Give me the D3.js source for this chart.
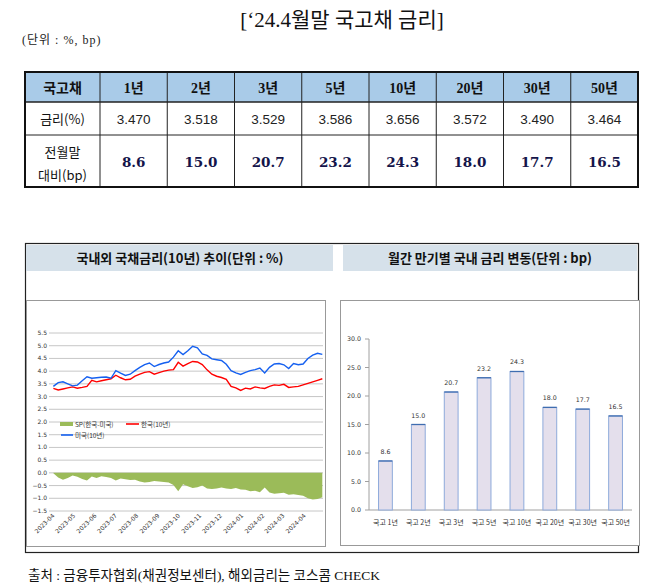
<!DOCTYPE html>
<html><head><meta charset="utf-8">
<script src="https://cdn.jsdelivr.net/npm/d3@7"></script>
<style>body{margin:0;background:#fff}svg{display:block}</style>
</head><body><svg id="c" width="658" height="585"></svg>
<script>
// ---------- data ----------
const tenors = ["1년","2년","3년","5년","10년","20년","30년","50년"];
const rates = [3.470,3.518,3.529,3.586,3.656,3.572,3.490,3.464];
const changes = [8.6,15.0,20.7,23.2,24.3,18.0,17.7,16.5];
const barCategories = tenors.map(t => "국고 " + t);
const barTicks = [0,5,10,15,20,25,30];
const lineTicks = [-1.5,-1.0,-0.5,0.0,0.5,1.0,1.5,2.0,2.5,3.0,3.5,4.0,4.5,5.0,5.5];
const monthTicks = ["2023-04","2023-05","2023-06","2023-07","2023-08","2023-09","2023-10","2023-11","2023-12","2024-01","2024-02","2024-03","2024-04"];
const weekDates = ["2023-04-03","2023-04-10","2023-04-17","2023-04-24","2023-05-01","2023-05-08","2023-05-15","2023-05-22","2023-05-29",
"2023-06-05","2023-06-12","2023-06-19","2023-06-26","2023-07-03","2023-07-10","2023-07-17","2023-07-24","2023-07-31",
"2023-08-07","2023-08-14","2023-08-21","2023-08-28","2023-09-04","2023-09-11","2023-09-18","2023-09-25",
"2023-10-02","2023-10-09","2023-10-16","2023-10-23","2023-10-30","2023-11-06","2023-11-13","2023-11-20","2023-11-27",
"2023-12-04","2023-12-11","2023-12-18","2023-12-25","2024-01-01","2024-01-08","2024-01-15","2024-01-22","2024-01-29",
"2024-02-05","2024-02-12","2024-02-19","2024-02-26","2024-03-04","2024-03-11","2024-03-18","2024-03-25",
"2024-04-01","2024-04-08","2024-04-15","2024-04-22","2024-04-29"];
const us10 = [3.40,3.55,3.58,3.50,3.42,3.45,3.62,3.78,3.72,3.74,3.76,3.77,3.72,4.02,3.92,3.83,3.88,4.02,4.15,4.26,4.32,4.18,4.26,4.32,4.36,4.55,
4.80,4.65,4.80,4.98,4.92,4.68,4.62,4.48,4.45,4.42,4.27,4.02,3.93,3.87,3.95,4.02,4.06,4.12,3.93,4.15,4.28,4.30,4.25,4.10,4.30,4.25,4.28,4.50,4.63,4.70,4.66];
const kr10 = [3.32,3.26,3.30,3.34,3.38,3.33,3.36,3.40,3.64,3.58,3.62,3.66,3.70,3.84,3.74,3.66,3.68,3.80,3.88,3.95,3.98,3.88,3.94,4.00,4.04,4.06,
4.35,4.20,4.30,4.38,4.36,4.26,4.05,3.88,3.80,3.75,3.68,3.40,3.34,3.24,3.33,3.30,3.38,3.34,3.32,3.40,3.46,3.44,3.48,3.36,3.38,3.40,3.46,3.52,3.58,3.64,3.70];
const spread = [-0.02,-0.18,-0.27,-0.20,-0.10,-0.15,-0.24,-0.30,-0.14,-0.20,-0.13,-0.16,-0.20,-0.30,-0.22,-0.25,-0.28,-0.27,-0.34,-0.38,-0.36,-0.32,-0.34,-0.36,-0.38,-0.48,
-0.72,-0.45,-0.53,-0.60,-0.57,-0.50,-0.62,-0.63,-0.62,-0.58,-0.62,-0.63,-0.60,-0.65,-0.66,-0.72,-0.70,-0.76,-0.58,-0.77,-0.82,-0.80,-0.78,-0.86,-0.84,-0.87,-0.90,-1.00,-1.05,-1.03,-0.96];

// ---------- setup ----------
const svg = d3.select("#c");
const parse = d3.timeParse("%Y-%m-%d");
const KR = "'Noto Sans CJK KR','Noto Sans',sans-serif";
const SERIF = "'Liberation Serif','DejaVu Serif','Noto Sans CJK KR',serif";

// title
svg.append("text").attr("x",342).attr("y",27).attr("text-anchor","middle")
  .attr("font-family",SERIF).attr("font-size",21).attr("fill","#111").text("[‘24.4월말 국고채 금리]");
svg.append("text").attr("x",22).attr("y",44).attr("letter-spacing",1)
  .attr("font-family",SERIF).attr("font-size",12).attr("fill","#222").attr("xml:space","preserve").text("(단위 : %, bp)");

// ---------- table ----------
const colX = d3.scaleBand().domain(tenors).range([100,638]);
const rowY = [72,102,135,187];
const tbl = svg.append("g");
tbl.append("rect").attr("x",25).attr("y",rowY[0]).attr("width",613).attr("height",rowY[1]-rowY[0]).attr("fill","#a9cbe8");
// header cells
tbl.append("text").attr("x",62.5).attr("y",93).attr("text-anchor","middle").attr("font-family",KR)
  .attr("font-weight","bold").attr("font-size",14).attr("fill","#111").text("국고채");
tbl.selectAll("text.h").data(tenors).join("text").attr("class","h")
  .attr("x",d=>colX(d)+colX.bandwidth()/2).attr("y",93).attr("text-anchor","middle")
  .attr("font-family",SERIF).attr("font-weight","bold").attr("font-size",14).attr("fill","#111").text(d=>d);
// rate row
tbl.append("text").attr("x",62.5).attr("y",124).attr("text-anchor","middle").attr("font-family",KR)
  .attr("font-size",13).attr("fill","#111").text("금리(%)");
tbl.selectAll("text.r").data(rates).join("text").attr("class","r")
  .attr("x",(d,i)=>colX(tenors[i])+colX.bandwidth()/2).attr("y",124).attr("text-anchor","middle")
  .attr("font-family","'Liberation Sans','DejaVu Sans',sans-serif").attr("font-size",13.5).attr("fill","#222").text(d=>d3.format(".3f")(d));
// change row
tbl.append("text").attr("x",62.5).attr("y",157).attr("text-anchor","middle").attr("font-family",KR)
  .attr("font-size",13).attr("fill","#111").text("전월말");
tbl.append("text").attr("x",62.5).attr("y",180).attr("text-anchor","middle").attr("font-family",KR)
  .attr("font-size",13).attr("fill","#111").text("대비(bp)");
tbl.selectAll("text.c").data(changes).join("text").attr("class","c")
  .attr("x",(d,i)=>colX(tenors[i])+colX.bandwidth()/2).attr("y",167).attr("text-anchor","middle")
  .attr("font-family","'DejaVu Serif','Liberation Serif',serif").attr("font-weight","bold").attr("font-size",13.5).attr("fill","#14144a").text(d=>d3.format(".1f")(d));
// grid lines
[rowY[1],rowY[2]].forEach((y,i)=>tbl.append("line").attr("x1",25).attr("x2",638).attr("y1",y).attr("y2",y)
  .attr("stroke","#222").attr("stroke-width",i===0?1.5:1));
[100].concat(tenors.slice(1).map(t=>colX(t))).forEach(x=>tbl.append("line").attr("x1",x).attr("x2",x)
  .attr("y1",rowY[0]).attr("y2",rowY[3]).attr("stroke","#222").attr("stroke-width",1));
tbl.append("rect").attr("x",25).attr("y",rowY[0]).attr("width",613).attr("height",rowY[3]-rowY[0])
  .attr("fill","none").attr("stroke","#111").attr("stroke-width",2);

// ---------- panels ----------
svg.append("rect").attr("x",25.5).attr("y",243.5).attr("width",613).attr("height",309).attr("fill","none").attr("stroke","#222").attr("stroke-width",1.2);
svg.append("rect").attr("x",26).attr("y",245).attr("width",307).attr("height",26).attr("fill","#d6e1ea");
svg.append("rect").attr("x",343).attr("y",245).attr("width",294).attr("height",26).attr("fill","#d6e1ea");
svg.append("text").attr("x",180).attr("y",263).attr("text-anchor","middle").attr("font-family",KR)
  .attr("font-weight","bold").attr("font-size",13).attr("fill","#111").text("국내외 국채금리(10년) 추이(단위 : %)");
svg.append("text").attr("x",490).attr("y",263).attr("text-anchor","middle").attr("font-family",KR)
  .attr("font-weight","bold").attr("font-size",13).attr("fill","#111").text("월간 만기별 국내 금리 변동(단위 : bp)");
svg.append("rect").attr("x",26.5).attr("y",300.5).attr("width",299).attr("height",246).attr("fill","#fff").attr("stroke","#999");
svg.append("rect").attr("x",340.5).attr("y",300.5).attr("width",299).attr("height",245).attr("fill","#fff").attr("stroke","#999");

// ---------- left line chart ----------
const lc = svg.append("g");
const x = d3.scaleTime().domain([parse("2023-04-01"),parse("2024-04-30")]).range([52,323]);
const y = d3.scaleLinear().domain([-1.5,5.5]).range([511,333]);
lc.selectAll("line.g").data(lineTicks).join("line").attr("class","g")
  .attr("x1",49).attr("x2",323).attr("y1",d=>y(d)).attr("y2",d=>y(d)).attr("stroke","#b8b8b8").attr("stroke-width",0.8);
lc.selectAll("text.y").data(lineTicks).join("text").attr("class","y")
  .attr("x",47).attr("y",d=>y(d)+2).attr("text-anchor","end").attr("font-family","'DejaVu Sans',sans-serif")
  .attr("font-size",6).attr("fill","#333").text(d=>d3.format(".1f")(d));
const dates = weekDates.map(parse);
const area = d3.area().x((d,i)=>x(dates[i])).y0(y(0)).y1(d=>y(d));
lc.append("path").datum(spread).attr("d",area).attr("fill","#9bbb59");
const line = d3.line().x((d,i)=>x(dates[i])).y(d=>y(d));
lc.append("path").datum(kr10).attr("d",line).attr("fill","none").attr("stroke","#ff0000").attr("stroke-width",1.4);
lc.append("path").datum(us10).attr("d",line).attr("fill","none").attr("stroke","#1560f0").attr("stroke-width",1.4);
const mParse = d3.timeParse("%Y-%m");
lc.selectAll("text.x").data(monthTicks).join("text").attr("class","x")
  .attr("transform",d=>`translate(${x(mParse(d))+3},${516}) rotate(-45)`).attr("text-anchor","end")
  .attr("font-family","'DejaVu Sans',sans-serif").attr("font-size",6).attr("fill","#333").text(d=>d);
// legend
const lg = lc.append("g").attr("font-family",KR).attr("font-size",6.5).attr("fill","#333");
lg.append("rect").attr("x",60).attr("y",422).attr("width",13).attr("height",4).attr("fill","#9bbb59");
lg.append("text").attr("x",75).attr("y",426.5).text("SP(한국-미국)");
lg.append("line").attr("x1",126).attr("x2",139).attr("y1",424).attr("y2",424).attr("stroke","#ff0000").attr("stroke-width",1.6);
lg.append("text").attr("x",141).attr("y",426.5).text("한국(10년)");
lg.append("line").attr("x1",61).attr("x2",73).attr("y1",435).attr("y2",435).attr("stroke","#1560f0").attr("stroke-width",1.6);
lg.append("text").attr("x",75).attr("y",437.5).text("미국(10년)");

// ---------- right bar chart ----------
const bc = svg.append("g");
const bx = d3.scaleBand().domain(barCategories).range([369,632]).paddingInner(0.58).paddingOuter(0.29);
const by = d3.scaleLinear().domain([0,30]).range([510,339]);
bc.append("line").attr("x1",369).attr("x2",369).attr("y1",339).attr("y2",510).attr("stroke","#a0a0a0");
bc.append("line").attr("x1",369).attr("x2",632).attr("y1",510).attr("y2",510).attr("stroke","#a0a0a0");
bc.selectAll("line.t").data(barTicks).join("line").attr("class","t")
  .attr("x1",365).attr("x2",369).attr("y1",d=>by(d)).attr("y2",d=>by(d)).attr("stroke","#a0a0a0");
bc.selectAll("text.y").data(barTicks).join("text").attr("class","y")
  .attr("x",361).attr("y",d=>by(d)+2).attr("text-anchor","end").attr("font-family","'DejaVu Sans',sans-serif")
  .attr("font-size",6.3).attr("fill","#333").text(d=>d3.format(".1f")(d));
bc.selectAll("rect.b").data(changes).join("rect").attr("class","b")
  .attr("x",(d,i)=>bx(barCategories[i])).attr("y",d=>by(d)).attr("width",bx.bandwidth()).attr("height",d=>510-by(d))
  .attr("fill","#e4dfec").attr("stroke","#8eaadb").attr("stroke-width",1);
bc.selectAll("line.top").data(changes).join("line").attr("class","top")
  .attr("x1",(d,i)=>bx(barCategories[i])).attr("x2",(d,i)=>bx(barCategories[i])+bx.bandwidth())
  .attr("y1",d=>by(d)).attr("y2",d=>by(d)).attr("stroke","#3f6db0").attr("stroke-width",1.3);
bc.selectAll("text.v").data(changes).join("text").attr("class","v")
  .attr("x",(d,i)=>bx(barCategories[i])+bx.bandwidth()/2).attr("y",d=>by(d)-7).attr("text-anchor","middle")
  .attr("font-family","'DejaVu Sans',sans-serif").attr("font-size",6.3).attr("fill","#333").text(d=>d3.format(".1f")(d));
bc.selectAll("text.cat").data(barCategories).join("text").attr("class","cat")
  .attr("x",d=>bx(d)+bx.bandwidth()/2).attr("y",525).attr("text-anchor","middle")
  .attr("font-family",KR).attr("font-size",7).attr("fill","#333").text(d=>d);

// source
svg.append("text").attr("x",28).attr("y",580).attr("font-family",SERIF).attr("font-size",13.5).attr("fill","#111")
  .text("출처 : 금융투자협회(채권정보센터), 해외금리는 코스콤 CHECK");
</script></body></html>
